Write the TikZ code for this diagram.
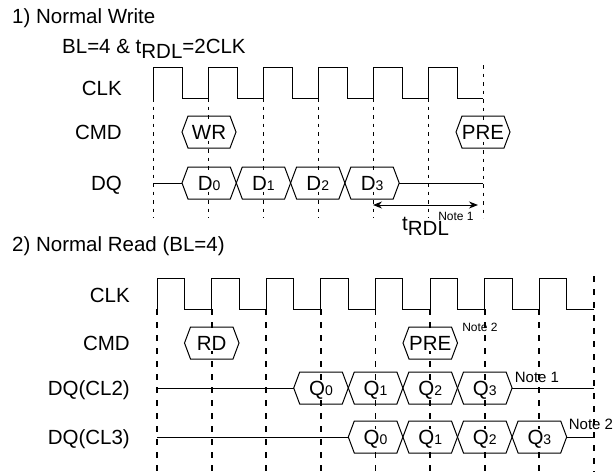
\documentclass[tikz,border=0pt]{standalone}
\usepackage{fontspec}
\setmainfont{Liberation Sans}
\usetikzlibrary{arrows.meta}
\tikzset{
  % --- waveforms ---
  wave/.style={line width=1pt},
  hexcell/.style={line width=1pt},
  gridthin/.style={dash pattern=on 3.5pt off 5pt, line width=0.8pt},
  gridthick/.style={dash pattern=on 6pt off 7pt, line width=1.8pt},
  span/.style={{Stealth[length=9pt, width=7pt]}-{Stealth[length=9pt, width=7pt]},
    line width=1pt},
  % --- texts ---
  heading/.style={anchor=base west, font=\fontsize{20.5}{20.5}\selectfont, inner sep=0pt},
  siglabel/.style={anchor=base east, font=\fontsize{20.5}{20.5}\selectfont, inner sep=0pt},
  celltext/.style={anchor=base, font=\fontsize{20.5}{20.5}\selectfont, inner sep=1pt, fill=white},
  notebig/.style={font=\fontsize{15}{15}\selectfont, inner sep=0pt},
  notesmall/.style={font=\fontsize{12}{12}\selectfont, inner sep=0pt},
}
\newcommand{\dg}[1]{{\fontsize{14}{14}\selectfont #1}}
\newcommand{\tRDL}{t\raisebox{-5pt}{RDL}}
% name, left x, width, mid y, text
\newcommand{\hexbox}[5]{%
  \draw[hexcell] ({#2},{#4}) -- ({#2+6},{#4-16}) -- ({#2+#3-6},{#4-16})
    -- ({#2+#3},{#4}) -- ({#2+#3-6},{#4+16}) -- ({#2+6},{#4+16}) -- cycle;
  \node[celltext] (#1) at ({#2+#3/2},{#4+7}) {#5};}

\begin{document}
\begin{tikzpicture}[x=1pt, y=-1pt]
  \useasboundingbox (0,0) rectangle (616,472);

  % ---------- 1) normal write ----------
  \node[heading] (h1) at (12,23) {1) Normal Write};
  \node[heading] (h1b) at (62,53) {BL=4 \& \tRDL=2CLK};
  \node[siglabel] (clk1) at (122,95) {CLK};
  \node[siglabel] (cmd1) at (122,139) {CMD};
  \node[siglabel] (dq1) at (122,190) {DQ};
  % clock edges
  \foreach \k in {0,...,5}{ \draw[gridthin] ({153+55*\k},98) -- ++(0,120); }
  \draw[gridthin] (483,65) -- (483,218);
  \draw[wave] (153,98) \foreach \k in {0,...,5}{ -- ++(0,-31) -- ++(29,0) -- ++(0,31) -- ++(26,0) };
  % command
  \hexbox{wr}{182}{54}{132}{WR}
  \hexbox{pre1}{456}{54}{132}{PRE}
  % data
  \draw[wave] (153,183) -- (182,183);
  \foreach \i in {0,...,3}{ \hexbox{d\i}{182+54.3*\i}{54.3}{183}{D\dg{\i}} }
  \draw[wave] (399.2,183) -- (483,183);
  % write recovery
  \coordinate (ra) at (373,205);
  \coordinate (rb) at (478,205);
  \draw[span] (ra) -- (rb);
  \node[anchor=base west, font=\fontsize{20.5}{20.5}\selectfont, inner sep=0pt] (trdl) at (402,230) {\tRDL};
  \node[notesmall] (n1) at (456,216) {Note 1};

  % ---------- 2) normal read ----------
  \node[heading] (h2) at (12,251) {2) Normal Read (BL=4)};
  \node[siglabel] (clk2) at (130,302) {CLK};
  \node[siglabel] (cmd2) at (130,350) {CMD};
  \node[siglabel] (dq2) at (130,395) {DQ(CL2)};
  \node[siglabel] (dq3) at (130,444) {DQ(CL3)};
  % clock edges
  \foreach \k in {0,...,7}{ \draw[gridthick] ({157+54.6*\k},309) -- ({157+54.6*\k},472); }
  \draw[gridthick] (594,276) -- (594,472);
  \draw[wave] (157,309) \foreach \k in {0,...,7}{ -- ++(0,-31) -- ++(27.5,0) -- ++(0,31) -- ++(27.1,0) };
  % command
  \hexbox{rd}{184.5}{54.5}{343}{RD}
  \hexbox{pre2}{403}{54.5}{343}{PRE}
  \node[notesmall] (n2) at (480,327) {Note 2};
  % CL2 data
  \draw[wave] (157,388) -- (293.7,388);
  \foreach \i in {0,...,3}{ \hexbox{qa\i}{293.7+54.6*\i}{54.6}{388}{Q\dg{\i}} }
  \draw[wave] (512.1,388) -- (594,388);
  \node[notebig] (n3) at (537,377) {Note 1};
  % CL3 data
  \draw[wave] (157,437) -- (348.3,437);
  \foreach \i in {0,...,3}{ \hexbox{qb\i}{348.3+54.6*\i}{54.6}{437}{Q\dg{\i}} }
  \draw[wave] (566.7,437) -- (594,437);
  \node[notebig] (n4) at (591,424) {Note 2};
\end{tikzpicture}
\end{document}
